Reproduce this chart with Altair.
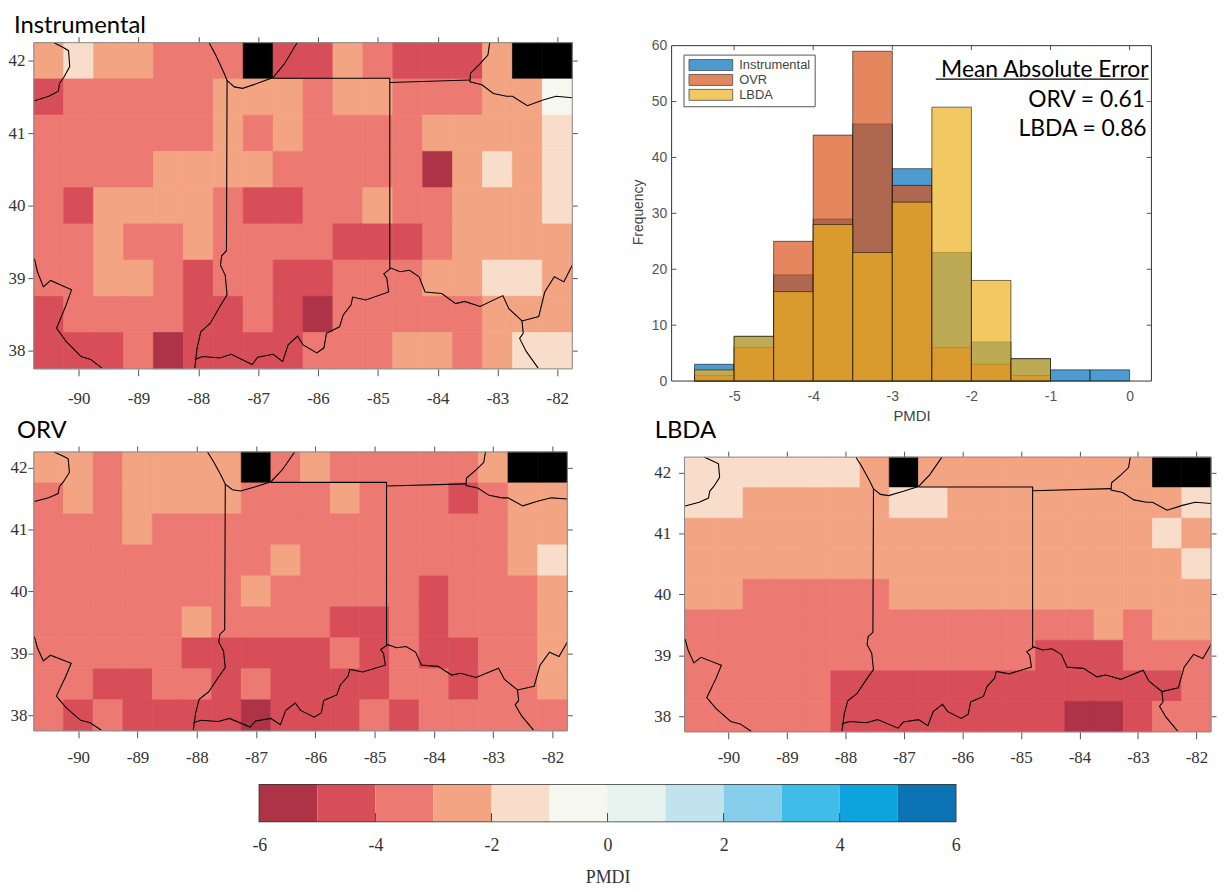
import altair as alt
import pandas as pd

# ---- values ----
COLORS = ["#AF3346", "#D74E59", "#EC7A72", "#F3A482", "#F9DDCB", "#F6F8F0",
          "#E6F2EE", "#C0E3EE", "#86CFEC", "#3FBCE8", "#0CA3DE", "#0C73B5"]
CLASS_EDGES = [-6, -5, -4, -3, -2, -1, 0, 1, 2, 3, 4, 5, 6]
LONS = [-90.5 + 0.5 * i for i in range(18)]
LATS = [42, 41.5, 41, 40.5, 40, 39.5, 39, 38.5, 38]

# class number = colour class (1 darkest red ... 6 palest), 0 = no data
INSTRUMENTAL = [
    [4, 5, 4, 4, 3, 3, 3, 0, 2, 2, 4, 3, 2, 2, 2, 4, 0, 0],
    [2, 3, 3, 3, 3, 3, 4, 4, 4, 3, 4, 4, 3, 3, 3, 4, 4, 6],
    [3, 3, 3, 3, 3, 3, 4, 3, 4, 3, 3, 3, 3, 4, 4, 4, 4, 5],
    [3, 3, 3, 3, 4, 4, 4, 4, 3, 3, 3, 3, 3, 1, 4, 5, 4, 5],
    [3, 2, 4, 4, 4, 4, 3, 2, 2, 3, 3, 4, 3, 3, 4, 4, 4, 5],
    [3, 3, 4, 3, 3, 4, 3, 3, 3, 3, 2, 2, 2, 3, 4, 4, 4, 4],
    [3, 3, 4, 4, 3, 2, 3, 3, 2, 2, 3, 3, 3, 4, 4, 5, 5, 4],
    [2, 3, 3, 3, 3, 2, 2, 3, 2, 1, 3, 3, 3, 3, 3, 4, 4, 4],
    [2, 2, 2, 3, 1, 2, 2, 2, 2, 3, 3, 3, 4, 4, 3, 4, 5, 5],
]
ORV = [
    [4, 4, 3, 4, 4, 4, 4, 0, 3, 4, 3, 3, 3, 3, 3, 4, 0, 0],
    [3, 4, 3, 4, 4, 4, 4, 3, 3, 3, 4, 3, 3, 3, 2, 3, 4, 4],
    [3, 3, 3, 4, 3, 3, 3, 3, 3, 3, 3, 3, 3, 3, 3, 3, 4, 4],
    [3, 3, 3, 3, 3, 3, 3, 3, 4, 3, 3, 3, 3, 3, 3, 3, 4, 5],
    [3, 3, 3, 3, 3, 3, 3, 4, 3, 3, 3, 3, 3, 2, 3, 3, 3, 4],
    [3, 3, 3, 3, 3, 4, 3, 3, 3, 3, 2, 2, 3, 2, 3, 3, 3, 4],
    [3, 3, 3, 3, 3, 2, 2, 2, 2, 2, 3, 2, 3, 2, 2, 3, 3, 4],
    [3, 3, 2, 2, 3, 3, 2, 3, 2, 2, 2, 2, 3, 3, 2, 3, 3, 4],
    [3, 2, 3, 2, 2, 2, 2, 1, 2, 2, 2, 3, 2, 3, 3, 3, 3, 3],
]
LBDA = [
    [5, 5, 5, 5, 5, 5, 4, 0, 4, 4, 4, 4, 4, 4, 4, 4, 0, 0],
    [5, 5, 4, 4, 4, 4, 4, 5, 5, 4, 4, 4, 4, 4, 4, 4, 4, 5],
    [4, 4, 4, 4, 4, 4, 4, 4, 4, 4, 4, 4, 4, 4, 4, 4, 5, 4],
    [4, 4, 4, 4, 4, 4, 4, 4, 4, 4, 4, 4, 4, 4, 4, 4, 4, 5],
    [4, 4, 3, 3, 3, 3, 3, 4, 4, 4, 4, 4, 4, 4, 4, 4, 4, 4],
    [3, 3, 3, 3, 3, 3, 3, 3, 3, 3, 3, 3, 3, 3, 4, 3, 4, 4],
    [3, 3, 3, 3, 3, 3, 3, 3, 3, 3, 3, 3, 2, 2, 2, 3, 3, 3],
    [3, 3, 3, 3, 3, 2, 2, 2, 2, 2, 2, 2, 2, 2, 2, 2, 2, 3],
    [3, 3, 3, 3, 3, 2, 2, 2, 2, 2, 2, 2, 2, 1, 1, 2, 3, 3],
]

UPPER_MISS_LON = [-90.41, -90.25, -90.17, -90.15, -90.25, -90.32, -90.34, -90.50, -90.74]
UPPER_MISS_LAT = [42.25, 42.18, 42.14, 41.92, 41.77, 41.69, 41.58, 41.51, 41.45]
LAKE_MI_LON = [-87.82, -87.71, -87.58, -87.52, -87.40, -87.26, -87.01, -86.75, -86.56, -86.35]
LAKE_MI_LAT = [42.25, 42.08, 41.85, 41.73, 41.64, 41.62, 41.69, 41.77, 41.96, 42.25]
IL_IN_LON = [-87.52, -87.53, -87.61, -87.63, -87.55, -87.52, -87.64, -87.80, -87.96, -88.02, -88.06]
IL_IN_LAT = [41.73, 39.38, 39.31, 39.18, 39.04, 38.77, 38.61, 38.38, 38.26, 38.04, 37.76]
IN_NORTH_LON = [-86.75, -84.80, -84.80]
IN_NORTH_LAT = [41.76, 41.76, 39.13]
OH_MI_LON = [-84.80, -83.46]
OH_MI_LAT = [41.70, 41.735]
ERIE_LON = [-83.13, -83.16, -83.29, -83.45, -83.46, -83.26, -83.07, -82.85, -82.75, -82.50, -82.24, -82.02, -81.75]
ERIE_LAT = [42.25, 42.08, 41.96, 41.83, 41.71, 41.67, 41.55, 41.51, 41.51, 41.38, 41.46, 41.51, 41.49]
OHIO_LON = [-88.06, -87.93, -87.64, -87.45, -87.10, -87.01, -86.75, -86.59, -86.50, -86.34, -86.25, -86.02,
            -85.90, -85.86, -85.64, -85.58, -85.45, -85.42, -85.20, -84.82, -84.85, -84.90, -84.78, -84.63,
            -84.47, -84.31, -84.21, -83.93, -83.70, -83.55, -83.29, -82.91, -82.81, -82.59, -82.31, -82.21,
            -82.05, -81.89, -81.75]
OHIO_LAT = [37.88, 37.92, 37.90, 37.95, 37.81, 37.91, 37.95, 37.85, 38.08, 38.20, 38.08, 37.97,
            38.04, 38.24, 38.33, 38.49, 38.63, 38.74, 38.70, 38.81, 39.00, 39.06, 39.14, 39.09,
            39.11, 39.02, 38.81, 38.79, 38.65, 38.68, 38.61, 38.76, 38.58, 38.41, 38.47, 38.81,
            39.02, 38.95, 39.18]
SANDY_LON = [-82.59, -82.57, -82.63, -82.52, -82.32]
SANDY_LAT = [38.41, 38.24, 38.17, 37.99, 37.76]
LOWER_MISS_LON = [-90.74, -90.69, -90.59, -90.47, -90.12, -90.21, -90.37, -90.21, -89.96, -89.80, -89.61]
LOWER_MISS_LAT = [39.27, 39.09, 38.88, 38.97, 38.84, 38.63, 38.31, 38.13, 37.92, 37.88, 37.76]

BIN_LEFT = [-5.5, -5, -4.5, -4, -3.5, -3, -2.5, -2, -1.5, -1, -0.5]
HIST_INSTRUMENTAL = [3, 8, 19, 29, 46, 38, 23, 7, 4, 2, 2]
HIST_OVR = [1, 6, 25, 44, 59, 35, 6, 3, 1, 0, 0]
HIST_LBDA = [2, 8, 16, 28, 23, 32, 49, 18, 4, 0, 0]
HIST_NAMES = ["Instrumental", "OVR", "LBDA"]
HIST_COLORS = ["#0072BD", "#D95319", "#EDB120"]

MAE_TEXT = ["Mean Absolute Error", "ORV = 0.61", "LBDA = 0.86"]
MAE_X = [0.24, 0.195, 0.215]
MAE_Y = [54.4, 49.1, 43.8]
MAE_LINE = dict(x=-2.45, x2=0.24, y=54.0)

# ---- tables ----
LON_DOMAIN = [-90.75, -81.75]
LAT_MIN, LAT_MAX = 37.75, 42.25
SANS = "Lato"
SERIF = "Liberation Serif"
HIST_FONT = "Liberation Sans"


def cells(grid):
    rows = []
    for lat, row in zip(LATS, grid):
        for lon, k in zip(LONS, row):
            rows.append(dict(x=lon - 0.25, x2=lon + 0.25, y=lat - 0.25, y2=lat + 0.25,
                             color=COLORS[k - 1] if k else "#000000"))
    return pd.DataFrame(rows)


border_rows = []
for seg, (lo, la) in enumerate([
    (UPPER_MISS_LON, UPPER_MISS_LAT), (LAKE_MI_LON, LAKE_MI_LAT), (IL_IN_LON, IL_IN_LAT),
    (IN_NORTH_LON, IN_NORTH_LAT), (OH_MI_LON, OH_MI_LAT), (ERIE_LON, ERIE_LAT),
    (OHIO_LON, OHIO_LAT), (SANDY_LON, SANDY_LAT), (LOWER_MISS_LON, LOWER_MISS_LAT)]):
    for i, (a, b) in enumerate(zip(lo, la)):
        border_rows.append(dict(seg=seg, i=i, lon=a, lat=b))
borders = pd.DataFrame(border_rows)

XS = list(range(-90, -81))
YS = list(range(38, 43))
HYPHEN = "'' + datum.value"


def map_panel(name, grid, w, h, title_dx, title_off, pad, xpad, extra=0.0):
    """extra: blank pixels above the map so that its top can sit lower than its neighbour's."""
    d = cells(grid)
    lat_top = LAT_MAX + extra / h * (LAT_MAX - LAT_MIN)
    xs = alt.Scale(domain=LON_DOMAIN, nice=False, zero=False)
    ys = alt.Scale(domain=[LAT_MIN, lat_top], nice=False, zero=False)
    rect = alt.Chart(d).mark_rect(strokeWidth=0.7).encode(
        x=alt.X("x:Q", scale=xs, axis=alt.Axis(values=XS, title=None, grid=False, domain=False, tickSize=7,
                                                tickColor="#555", labelFont=SERIF, labelFontSize=17,
                                                labelColor="#333", labelPadding=xpad, labelExpr=HYPHEN)),
        x2="x2:Q",
        y=alt.Y("y:Q", scale=ys, axis=alt.Axis(values=YS, title=None, grid=False, domain=False, tickSize=6,
                                                tickColor="#555", labelFont=SERIF, labelFontSize=17,
                                                labelColor="#333", labelPadding=pad, labelExpr=HYPHEN)),
        y2="y2:Q",
        color=alt.Color("color:N", scale=None),
        stroke=alt.Stroke("color:N", scale=None),
    )
    lines = alt.Chart(borders).mark_line(color="#000000", strokeWidth=1.1, clip=True).encode(
        x=alt.X("lon:Q", scale=xs, axis=None), y=alt.Y("lat:Q", scale=ys, axis=None),
        detail="seg:N", order="i:Q")
    frame = alt.Chart(pd.DataFrame([dict(x=LON_DOMAIN[0], x2=LON_DOMAIN[1], y=LAT_MIN, y2=LAT_MAX)])).mark_rect(
        fillOpacity=0, stroke="#888888", strokeWidth=1).encode(
        x=alt.X("x:Q", scale=xs, axis=None), x2="x2:Q", y=alt.Y("y:Q", scale=ys, axis=None), y2="y2:Q")
    mirror = alt.Chart(d).mark_point(opacity=0).encode(
        x=alt.X("x:Q", scale=xs, axis=alt.Axis(orient="top", values=XS, labels=False, title=None, grid=False,
                                                domain=False, tickSize=6, tickColor="#555", offset=-extra)),
        y=alt.Y("y:Q", scale=ys, axis=alt.Axis(orient="right", values=YS, labels=False, title=None, grid=False,
                                                domain=False, tickSize=5, tickColor="#555")),
    )
    return alt.layer(rect, lines, frame, mirror).resolve_axis(x="independent", y="independent").properties(
        width=w, height=h + extra,
        title=alt.TitleParams(name, font=SANS, fontSize=24, fontWeight="normal", anchor="start", frame="group",
                              dx=title_dx, offset=title_off, color="#000000"),
        view=alt.ViewConfig(stroke=None),
    )


# histogram
hist_rows = []
for name, vals in zip(HIST_NAMES, [HIST_INSTRUMENTAL, HIST_OVR, HIST_LBDA]):
    for b, v in zip(BIN_LEFT, vals):
        if v:
            hist_rows.append(dict(series=name, x=b, x2=b + 0.5, y=v, y0=0))
hist_df = pd.DataFrame(hist_rows)
HIST_X = [-5.79, 0.276]
HIST_TOP = 60.53   # 3px of blank above the frame
HX = alt.Scale(domain=HIST_X, nice=False, zero=False)
HY = alt.Scale(domain=[0, HIST_TOP], nice=False)

bars = alt.Chart(hist_df).mark_rect(fillOpacity=0.7, stroke="#000000", strokeOpacity=0.55, strokeWidth=1).encode(
    x=alt.X("x:Q", scale=HX, axis=alt.Axis(values=[-5, -4, -3, -2, -1, 0], title="PMDI", grid=False, domain=False,
                                            ticks=False, labelFont=HIST_FONT, labelFontSize=14, labelColor="#555",
                                            titleFont=HIST_FONT, titleFontSize=15, titleFontWeight="normal",
                                            titleColor="#444", labelPadding=9, titlePadding=5, labelExpr=HYPHEN)),
    x2="x2:Q",
    y=alt.Y("y:Q", scale=HY, axis=alt.Axis(values=list(range(0, 61, 10)), title="Frequency", grid=False, domain=False,
                                            ticks=False, labelFont=HIST_FONT, labelFontSize=14, labelColor="#555",
                                            titleFont=HIST_FONT, titleFontSize=14, titleFontWeight="normal",
                                            titleColor="#444", labelPadding=5, titlePadding=6, labelFlush=False)),
    y2="y0:Q",
    color=alt.Color("series:N", scale=alt.Scale(domain=HIST_NAMES, range=HIST_COLORS), legend=alt.Legend(
        title=None, orient="none", legendX=12, legendY=12, fillColor="#FFFFFF", strokeColor="#555555", padding=4,
        symbolType="M-1,-1.1H7.8V1.1H-1Z", symbolSize=100, symbolOpacity=0.7, symbolStrokeColor="#000000",
        symbolStrokeWidth=0.8, labelFont=HIST_FONT, labelFontSize=13, labelColor="#444", labelOffset=39,
        rowPadding=0)),
    order=alt.Order("row:Q"),
).transform_calculate(row="datum.series === 'Instrumental' ? 0 : datum.series === 'OVR' ? 1 : 2")

tick_df = pd.DataFrame(
    [dict(x=HIST_X[0], x2=HIST_X[0] + 0.06, y=v) for v in range(10, 60, 10)]
    + [dict(x=HIST_X[1], x2=HIST_X[1] - 0.06, y=v) for v in range(10, 60, 10)]
)
hticks = alt.Chart(tick_df).mark_rule(color="#555555", strokeWidth=1).encode(
    x=alt.X("x:Q", scale=HX, axis=None), x2="x2:Q", y=alt.Y("y:Q", scale=HY, axis=None))
toptick_df = pd.DataFrame(dict(x=[-5, -4, -3, -2, -1, 0], y=[60] * 6, y2=[59.2] * 6))
htop = alt.Chart(toptick_df).mark_rule(color="#555555", strokeWidth=1).encode(
    x=alt.X("x:Q", scale=HX, axis=None), y=alt.Y("y:Q", scale=HY, axis=None), y2="y2:Q")
hframe = alt.Chart(pd.DataFrame([dict(x=HIST_X[0], x2=HIST_X[1], y=0, y2=60)])).mark_rect(
    fillOpacity=0, stroke="#333333", strokeWidth=1).encode(
    x=alt.X("x:Q", scale=HX, axis=None), x2="x2:Q", y=alt.Y("y:Q", scale=HY, axis=None), y2="y2:Q")
mae = alt.Chart(pd.DataFrame(dict(t=MAE_TEXT, x=MAE_X, y=MAE_Y))).mark_text(
    align="right", baseline="alphabetic", font=SANS, fontSize=23, color="#000000").encode(
    x=alt.X("x:Q", scale=HX, axis=None), y=alt.Y("y:Q", scale=HY, axis=None), text="t:N")
under = alt.Chart(pd.DataFrame([MAE_LINE])).mark_rule(color="#000000", strokeWidth=1.2).encode(
    x=alt.X("x:Q", scale=HX, axis=None), x2="x2:Q", y=alt.Y("y:Q", scale=HY, axis=None))

hist = alt.layer(bars, hticks, htop, hframe, mae, under).resolve_axis(x="independent", y="independent").properties(
    width=483, height=340.6,
    title=alt.TitleParams(" ", font=SANS, fontSize=24, anchor="start", offset=3),
    view=alt.ViewConfig(stroke=None),
)

# colour bar
bar_df = pd.DataFrame(dict(x=CLASS_EDGES[:-1], x2=CLASS_EDGES[1:], color=COLORS))
bar_x = alt.Scale(domain=[-6, 6], nice=False, zero=False)
bar_y = alt.Scale(domain=[0, 1], nice=False)
bar_rect = alt.Chart(bar_df).mark_rect(stroke=None).encode(
    x=alt.X("x:Q", scale=bar_x, axis=alt.Axis(values=CLASS_EDGES[::2], title="PMDI", grid=False, domain=False,
                                               ticks=False, labelFont=SERIF, labelFontSize=18, labelColor="#333",
                                               titleFont=SERIF, titleFontSize=18, titleFontWeight="normal",
                                               titleColor="#333", labelPadding=15, titlePadding=14, labelExpr=HYPHEN,
                                               labelFlush=False)),
    x2="x2:Q",
    y=alt.value(0), y2=alt.value(37),
    color=alt.Color("color:N", scale=None),
)
bar_ticks = alt.Chart(pd.DataFrame(dict(x=[-4, -2, 0, 2, 4], y=[0] * 5, y2=[0.23] * 5))).mark_rule(
    color="#444444").encode(x=alt.X("x:Q", scale=bar_x, axis=None), y=alt.Y("y:Q", scale=bar_y, axis=None), y2="y2:Q")
bar = alt.layer(bar_rect, bar_ticks).resolve_axis(x="independent").properties(
    width=701, height=37, view=alt.ViewConfig(stroke="#333333", strokeWidth=1.5),
    title=alt.TitleParams(" ", font=SERIF, fontSize=18, offset=6))
spacer = alt.Chart(pd.DataFrame(dict(a=[0]))).mark_point(opacity=0).encode(x=alt.value(0), y=alt.value(0)).properties(
    width=218, height=37, view=alt.ViewConfig(stroke=None))

row1 = alt.hconcat(map_panel("Instrumental", INSTRUMENTAL, 542, 328.3, -20, -2, 3, 15), hist, spacing=53).resolve_scale(color="independent")
row2 = alt.hconcat(map_panel("ORV", ORV, 537, 280.7, -17, 3, 1, 12),
                   map_panel("LBDA", LBDA, 530, 276.5, -30, 8.2, 8, 11, extra=5.2), spacing=81).resolve_scale(color="independent")
row3 = alt.hconcat(spacer, bar, spacing=0).resolve_scale(color="independent")

chart = alt.vconcat(row1, row2, row3, spacing=-6).resolve_scale(color="independent").properties(padding=dict(left=0, top=0, right=0, bottom=0))
chart.save("out.html", embed_options={"renderer": "svg", "actions": False})
